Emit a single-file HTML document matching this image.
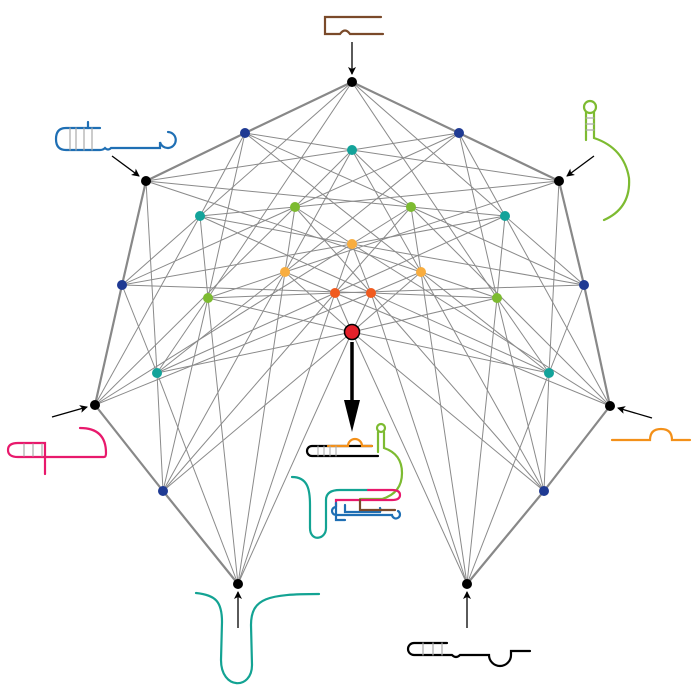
<!DOCTYPE html>
<html><head><meta charset="utf-8"><style>
html,body{margin:0;padding:0;background:#fff;width:700px;height:700px;overflow:hidden}
svg{display:block}
</style></head><body>
<svg id="s" width="700" height="700" viewBox="0 0 700 700" xmlns="http://www.w3.org/2000/svg">
<defs>
<marker id="ah" markerWidth="8" markerHeight="8" refX="7" refY="4" orient="auto" markerUnits="userSpaceOnUse">
<path d="M0,0 L8,4 L0,8 L2,4 z" fill="#000"/></marker>
</defs>
<g id="edges" stroke="#8a8a8a" stroke-width="1" fill="none"></g>
<g id="outer" stroke="#888" stroke-width="2.2" fill="none"></g>
<g id="nodes"></g>
<g stroke="#000" stroke-width="1.3" fill="none" marker-end="url(#ah)">
<line x1="352" y1="42" x2="352" y2="74"/>
<line x1="112" y1="156" x2="139" y2="176"/>
<line x1="594" y1="156" x2="567" y2="176"/>
<line x1="52" y1="417" x2="87" y2="407"/>
<line x1="652" y1="418" x2="618" y2="408"/>
<line x1="238" y1="628" x2="238" y2="592"/>
<line x1="467" y1="628" x2="467" y2="592"/>
</g>
<line x1="352" y1="342" x2="352" y2="405" stroke="#000" stroke-width="3.5"/>
<path d="M344,400 L352,432 L360,400 z" fill="#000"/>
<g fill="none" stroke-width="2.2" stroke-linecap="round">
<path d="M381,17 H325 V34 H340 q5,-7 10,0 H383" stroke="#7a4a2a"/>
<path d="M100,128 H66 q-10,0 -10,11 q0,11 10,11 H100 q3,0 5,-2 q3,3 6,0 H160 V142 a8,8 0 1,0 8,-10" stroke="#1f6fb4"/>
<path d="M70,128 V150 M84,128 V150 M92,128 V150 M76,128 V150" stroke="#aaa" stroke-width="1.2"/>
<path d="M88,128 V122" stroke="#1f6fb4"/>
<circle cx="590" cy="107" r="6" stroke="#7dbb31"/>
<path d="M586,112 V140 M594,112 V138 q30,10 35,40 q2,30 -25,42" stroke="#7dbb31"/>
<path d="M586,118 H594 M586,124 H594 M586,130 H594" stroke="#aaa" stroke-width="1.2"/>
<path d="M80,428 q26,0 26,25 q0,4 -2,4 H18 q-10,0 -10,-7 q0,-7 10,-7 H45 V474" stroke="#e8196c"/>
<path d="M24,444 V456 M33,444 V456 M42,444 V456" stroke="#aaa" stroke-width="1.2"/>
<path d="M612,440 H650 q0,-11 11,-11 q11,0 11,11 H690" stroke="#f39019"/>
<path d="M196,593 C216,595 222,602 222,622 L221,660 C221,690 252,690 252,665 L251,625 C251,598 268,594 319,594" stroke="#13a393"/>
<path d="M447,643 H414 a6,6 0 0,0 0,12 H452 q4,4 8,0 H489 a11,11 0 0,0 22,0 V651 H530" stroke="#000"/>
<path d="M423,643 V655 M433,643 V655 M442,643 V655" stroke="#aaa" stroke-width="1.2"/>
<path d="M372,446 H312 a5,5 0 0,0 0,10 H378" stroke="#000"/>
<path d="M328,446 H348 a7,7 0 0,1 14,0 H372" stroke="#f39019"/>
<path d="M318,446 V456 M324,446 V456 M330,446 V456 M336,446 V456" stroke="#aaa" stroke-width="1"/>
<circle cx="381" cy="428" r="4" stroke="#7dbb31"/>
<path d="M378,432 V452 M384,432 V448 q18,6 18,25 q0,20 -20,26 H360" stroke="#7dbb31"/>
<path d="M292,477 C308,477 310,490 310,505 V528 C310,542 326,540 326,528 V500 q0,-10 14,-10 H368" stroke="#13a393"/>
<path d="M368,490 H392 q8,0 8,5 q0,5 -8,5 H336 V507" stroke="#e8196c"/>
<path d="M345,505 V512 H380 a5,5 0 0,0 0,-4" stroke="#1f6fb4"/>
<path d="M360,500 V510 H395" stroke="#7a4a2a"/>
<path d="M336,507 a4,4 0 0,0 0,8 H392 a4,4 0 1,0 6,-4 M336,503 V520 H345" stroke="#1f6fb4"/>
</g>
</svg>
<script>
var pos=[[238,584],[95,405],[146,181],[352,82],[559,181],[610,406],[467,584]];
var L2=[[163,491],[122,285],[245,133],[459,133],[584,285],[544,491]];
var L3=[[157,373],[200,216],[352,150],[505,216],[549,373]];
var L4=[[208,298],[295,207],[411,207],[497,298]];
var L5=[[285,272],[352,244],[421,272]];
var L6=[[335,293],[371,293]];
var L7=[[352,332]];
var levels=[pos,L2,L3,L4,L5,L6,L7];
var cols=["#000","#1f3a93","#13a39a","#7dbb31","#f8ad3f","#f05a1e","#e5202a"];
var nodes=[];
levels.forEach(function(lv,k){lv.forEach(function(p,i){nodes.push({i:i,j:i+k,x:p[0],y:p[1],c:cols[k],k:k});});});
var ns="http://www.w3.org/2000/svg";
var E=document.getElementById("edges"),O=document.getElementById("outer"),N=document.getElementById("nodes");
function ln(g,a,b){var l=document.createElementNS(ns,"line");l.setAttribute("x1",a.x);l.setAttribute("y1",a.y);l.setAttribute("x2",b.x);l.setAttribute("y2",b.y);g.appendChild(l);}
nodes.forEach(function(a){nodes.forEach(function(b){
 if(a!==b && b.k>a.k && ((b.i==a.i && b.j>a.j) || (b.j==a.j && b.i<a.i))){
  if(a.k==0&&b.k==1) ln(O,a,b); else ln(E,a,b);
 }});});
nodes.forEach(function(n){var c=document.createElementNS(ns,"circle");c.setAttribute("cx",n.x);c.setAttribute("cy",n.y);
 if(n.k==6){c.setAttribute("r",7.5);c.setAttribute("stroke","#000");c.setAttribute("stroke-width","1.5");}else c.setAttribute("r",5);
 c.setAttribute("fill",n.c);N.appendChild(c);});
</script>
</body></html>
